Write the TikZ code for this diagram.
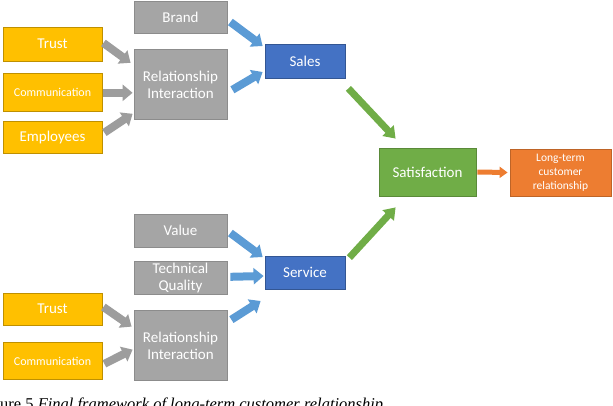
\documentclass[tikz,border=0pt]{standalone}
\usepackage{fontspec}
\setmainfont{Carlito}
\newfontfamily\capfont{Liberation Serif}
\usepackage{tikz}
\usetikzlibrary{arrows.meta, positioning, calc}

\definecolor{boxyellow}{HTML}{FFC000}
\definecolor{boxgray}{HTML}{A5A5A5}
\definecolor{boxblue}{HTML}{4472C4}
\definecolor{boxgreen}{HTML}{70AD47}
\definecolor{boxorange}{HTML}{ED7D31}
\definecolor{arrowblue}{HTML}{5B9BD5}

\begin{document}
\begin{tikzpicture}[
    x=1pt, y=-1pt,
    every node/.style={font=\fontsize{15}{17}\selectfont, text=white, inner sep=0pt},
    factor/.style={rectangle, draw=boxyellow!75!black, fill=boxyellow, line width=0.8pt, minimum width=99pt, align=center},
    driver/.style={rectangle, draw=boxgray!85!black, fill=boxgray, line width=0.8pt, minimum width=93pt, align=center},
    core/.style={rectangle, draw=boxblue!75!black, fill=boxblue, line width=0.8pt, minimum width=80pt, minimum height=34pt, align=center},
    result/.style={rectangle, draw=boxgreen!80!black, fill=boxgreen, line width=0.8pt, minimum width=97pt, minimum height=48pt, align=center},
    goal/.style={rectangle, draw=boxorange!80!black, fill=boxorange, line width=0.8pt, minimum width=101pt, minimum height=47pt, align=center},
    grayarrow/.style={draw=boxgray!95!black, line width=8pt, -{Triangle[length=10pt, width=16pt]}},
    bluearrow/.style={draw=arrowblue, line width=8pt, -{Triangle[length=10pt, width=16pt]}},
    greenarrow/.style={draw=boxgreen, line width=7pt, -{Triangle[length=11pt, width=15pt]}},
    orangearrow/.style={draw=boxorange, line width=5pt, -{Triangle[length=8pt, width=11pt]}}
]
\useasboundingbox (0,0) rectangle (613,405);

% sales side
\node[driver, minimum height=32pt] (brand) at (180.5,17) {Brand};
\node[driver, minimum height=70pt, below=16pt of brand] (ri1) {Relationship\\Interaction};
\node[factor, minimum height=34pt] (trust1) at (52.5,44) {Trust};
\node[factor, minimum height=38pt, below=12pt of trust1, font=\fontsize{12}{14}\selectfont] (comm1) {Communication};
\node[factor, minimum height=32pt, below=9pt of comm1] (emp1) {Employees};
\node[core] (sales) at (305,61) {Sales};

% service side
\node[driver, minimum height=33pt] (value) at (180.5,230.5) {Value};
\node[driver, minimum height=33pt, below=14pt of value] (tq) {Technical\\Quality};
\node[driver, minimum height=70pt, below=15pt of tq] (ri2) {Relationship\\Interaction};
\node[factor, minimum height=32pt] (trust2) at (52.5,309) {Trust};
\node[factor, minimum height=37pt, below=17pt of trust2, font=\fontsize{12}{14}\selectfont] (comm2) {Communication};
\node[core, minimum height=33pt] (service) at (305,272.5) {Service};

% outcome
\node[result] (sat) at (427.5,172) {Satisfaction};
\node[goal, font=\fontsize{11.5}{14}\selectfont] (longterm) at (560.5,172.5) {Long-term\\customer\\relationship};

\draw[grayarrow] ($(trust1.east)+(1,-1)$) -- ($(ri1.west)+(-3,-22)$);
\draw[grayarrow] ($(comm1.east)+(1,0)$) -- ($(ri1.west)+(-1,8)$);
\draw[grayarrow] ($(emp1.east)+(2,-5)$) -- ($(ri1.west)+(-1,29)$);
\draw[bluearrow] ($(brand.east)+(3,5)$) -- ($(sales.west)+(-2,-15)$);
\draw[bluearrow] ($(ri1.east)+(5,5)$) -- ($(sales.west)+(-2,11)$);

\draw[grayarrow] ($(trust2.east)+(1,-2)$) -- ($(ri2.west)+(-2,-19)$);
\draw[grayarrow] ($(comm2.east)+(2,2.5)$) -- ($(ri2.west)+(-1,4)$);
\draw[bluearrow] ($(value.east)+(3,2.5)$) -- ($(service.west)+(-2,-15.5)$);
\draw[bluearrow] ($(tq.east)+(3,-1.5)$) -- ($(service.west)+(-1,3.5)$);
\draw[bluearrow] ($(ri2.east)+(4,-26)$) -- ($(service.west)+(-4,28.5)$);

\draw[greenarrow] ($(sales.south east)+(3,10)$) -- ($(sat.north west)+(17,-9)$);
\draw[greenarrow] ($(service.north east)+(4,2)$) -- ($(sat.south west)+(17,11)$);
\draw[orangearrow] ($(sat.east)+(1,0)$) -- ($(longterm.west)+(-2,0)$);

\node[anchor=base west, text=black, font=\capfont\fontsize{16.5}{19}\selectfont] (caption) at (0,409) {ure 5 \textit{Final framework of long-term customer relationship}};
\end{tikzpicture}
\end{document}
